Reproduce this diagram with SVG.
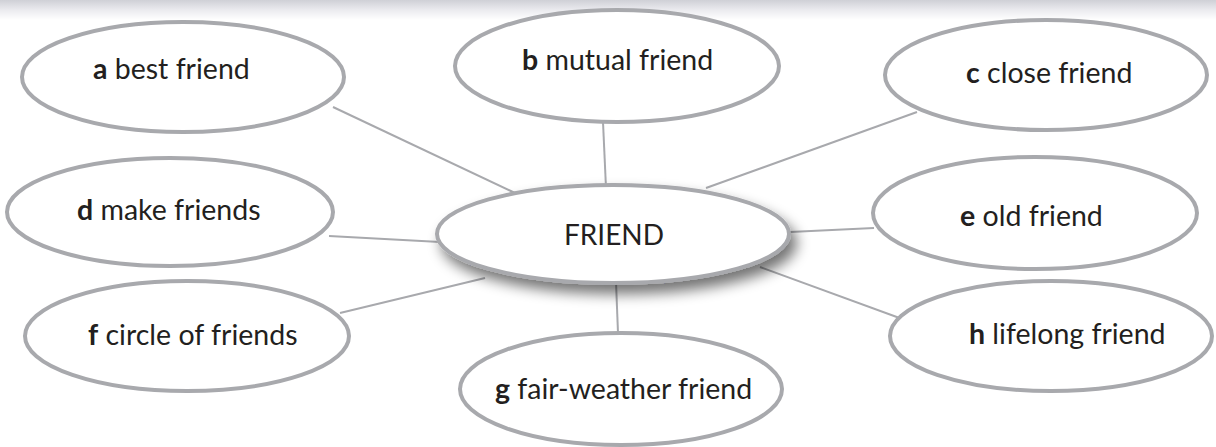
<svg xmlns="http://www.w3.org/2000/svg" width="1216" height="447" viewBox="0 0 1216 447">
<defs>
<linearGradient id="topbar" x1="0" y1="0" x2="0" y2="1">
<stop offset="0" stop-color="#cfd0d6"/>
<stop offset="0.5" stop-color="#ebebef"/>
<stop offset="1" stop-color="#ffffff"/>
</linearGradient>
<filter id="shadow" x="-20%" y="-40%" width="140%" height="190%">
<feGaussianBlur in="SourceAlpha" stdDeviation="7"/>
<feOffset dx="6" dy="9" result="b"/>
<feComponentTransfer><feFuncA type="linear" slope="0.55"/></feComponentTransfer>
<feMerge><feMergeNode/><feMergeNode in="SourceGraphic"/></feMerge>
</filter>
<style>
.node{fill:#ffffff;stroke:#a8a9ad;stroke-width:4}
.conn{stroke:#a8a9ad;stroke-width:2;fill:none}
.lbl{font-family:Lato,"Open Sans","Liberation Sans",sans-serif;font-size:28.5px;fill:#231f20}
.key{font-weight:bold}
.center{font-family:Lato,"Open Sans","Liberation Sans",sans-serif;font-size:28px;fill:#231f20}
</style>
</defs>
<rect x="0" y="0" width="1216" height="447" fill="#ffffff"/>
<rect x="0" y="0" width="1216" height="20" fill="url(#topbar)"/>
<g id="connectors">
<line class="conn" x1="333" y1="107" x2="515" y2="193"/>
<line class="conn" x1="603" y1="122" x2="606" y2="188"/>
<line class="conn" x1="917" y1="112" x2="706" y2="188"/>
<line class="conn" x1="329" y1="236" x2="440" y2="242"/>
<line class="conn" x1="874" y1="228" x2="790" y2="232"/>
<line class="conn" x1="340" y1="313" x2="485" y2="278"/>
<line class="conn" x1="616" y1="282" x2="618" y2="333"/>
<line class="conn" x1="905" y1="320" x2="760" y2="267"/>
</g>
<g id="node-friend">
<ellipse class="node" cx="613" cy="234" rx="176" ry="49" filter="url(#shadow)"/>
<text class="center" x="614" y="245" text-anchor="middle">FRIEND</text>
</g>
<g id="node-a">
<ellipse class="node" cx="183" cy="77" rx="161" ry="55"/>
<text class="lbl" x="93" y="79"><tspan class="key">a</tspan> best friend</text>
</g>
<g id="node-b">
<ellipse class="node" cx="617" cy="66" rx="162" ry="56"/>
<text class="lbl" x="522" y="70"><tspan class="key">b</tspan> mutual friend</text>
</g>
<g id="node-c">
<ellipse class="node" cx="1046" cy="75" rx="161" ry="55"/>
<text class="lbl" x="966" y="83"><tspan class="key">c</tspan> close friend</text>
</g>
<g id="node-d">
<ellipse class="node" cx="170" cy="212" rx="163" ry="54"/>
<text class="lbl" x="77" y="220"><tspan class="key">d</tspan> make friends</text>
</g>
<g id="node-e">
<ellipse class="node" cx="1035" cy="213" rx="162" ry="56"/>
<text class="lbl" x="960" y="226"><tspan class="key">e</tspan> old friend</text>
</g>
<g id="node-f">
<ellipse class="node" cx="187" cy="336" rx="162" ry="55"/>
<text class="lbl" x="88" y="345"><tspan class="key">f</tspan> circle of friends</text>
</g>
<g id="node-g">
<ellipse class="node" cx="621" cy="389" rx="161" ry="56"/>
<text class="lbl" x="495" y="399"><tspan class="key">g</tspan> fair-weather friend</text>
</g>
<g id="node-h">
<ellipse class="node" cx="1051" cy="336" rx="161" ry="55"/>
<text class="lbl" x="969" y="344"><tspan class="key">h</tspan> lifelong friend</text>
</g>
</svg>
